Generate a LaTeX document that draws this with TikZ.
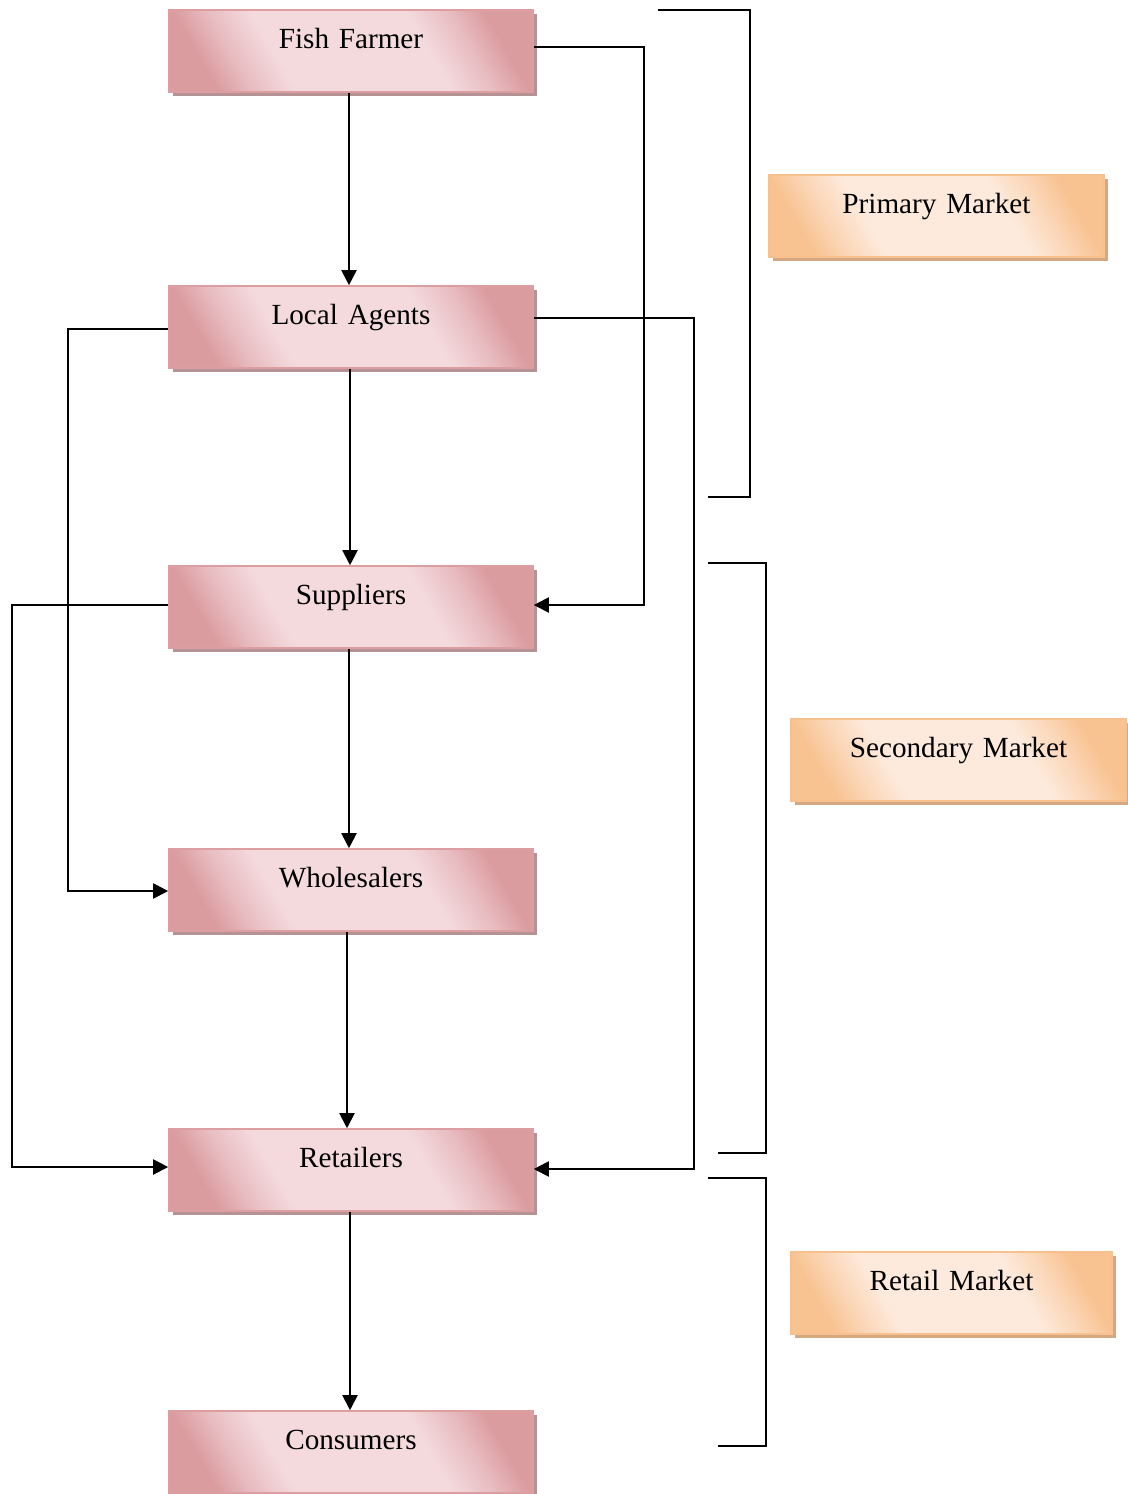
\documentclass[tikz,border=0pt]{standalone}
\usepackage{fontspec}
\setmainfont{Liberation Serif}
\usetikzlibrary{arrows.meta,shadows}
\definecolor{pdark}{HTML}{DB9CA0}
\definecolor{pmid}{HTML}{E8BDC1}
\definecolor{plight}{HTML}{F4DADD}
\definecolor{pborder}{HTML}{DC9EA1}
\definecolor{pshadow}{HTML}{B59394}
\definecolor{odark}{HTML}{F8C291}
\definecolor{omid}{HTML}{FBD6B6}
\definecolor{olight}{HTML}{FDEADC}
\definecolor{oborder}{HTML}{F7C08E}
\definecolor{oshadow}{HTML}{D4A982}
\pgfdeclareverticalshading{pinksh}{100bp}{color(0bp)=(pdark); color(24bp)=(pdark); color(30bp)=(pmid); color(37bp)=(plight); color(63bp)=(plight); color(70bp)=(pmid); color(76bp)=(pdark); color(100bp)=(pdark)}
\pgfdeclareverticalshading{orsh}{100bp}{color(0bp)=(odark); color(24bp)=(odark); color(30bp)=(omid); color(37bp)=(olight); color(63bp)=(olight); color(70bp)=(omid); color(76bp)=(odark); color(100bp)=(odark)}
\tikzset{
  box/.style={rectangle, inner xsep=0pt, inner ysep=0pt, text height=19pt, text depth=22pt,
    align=center, font=\fontsize{14.6}{17}\selectfont, line width=0.8pt},
  pbox/.style={box, text width=182pt, draw=pborder, shading=pinksh, shading angle=-60,
    drop shadow={shadow xshift=2pt, shadow yshift=-2pt, fill=pshadow, opacity=1}},
  obox/.style={box, draw=oborder, shading=orsh, shading angle=-60,
    drop shadow={shadow xshift=2pt, shadow yshift=-2pt, fill=oshadow, opacity=1}},
  arr/.style={line width=1pt, -{Triangle[length=7.5pt,width=7.5pt]}},
  ln/.style={line width=1pt},
}
\begin{document}
\begin{tikzpicture}[x=0.5pt,y=-0.5pt]
\useasboundingbox[fill=white] (0,0) rectangle (1128,1494);
% main chain
\node[pbox] (ff)  at (351,51)   {Fish Farmer};
\node[pbox] (la)  at (351,327)  {Local Agents};
\node[pbox] (sup) at (351,607)  {Suppliers};
\node[pbox] (wh)  at (351,890)  {Wholesalers};
\node[pbox] (ret) at (351,1170) {Retailers};
\node[pbox] (con) at (351,1452) {Consumers};
% market labels
\node[obox, text width=167.5pt] (pm) at (936.5,216)  {Primary Market};
\node[obox, text width=167.5pt] (sm) at (958.5,760)  {Secondary Market};
\node[obox, text width=160.5pt] (rm) at (951.5,1293) {Retail Market};
% vertical arrows
\draw[arr] ([xshift=-1pt]ff.south) -- ([xshift=-1pt]la.north);
\draw[arr] ([xshift=-0.5pt]la.south) -- ([xshift=-0.5pt]sup.north);
\draw[arr] ([xshift=-1pt]sup.south) -- ([xshift=-1pt]wh.north);
\draw[arr] ([xshift=-2pt]wh.south) -- ([xshift=-2pt]ret.north);
\draw[arr] ([xshift=-0.5pt]ret.south) -- ([xshift=-0.5pt]con.north);
% side routes
\draw[arr] ([yshift=2pt]ff.east) -- ++(110,0) |- ([yshift=1pt]sup.east);
\draw[arr] ([yshift=4.5pt]la.east) -- ++(160,0) |- ([yshift=0.5pt]ret.east);
\draw[arr] ([yshift=-1pt]la.west) -- ++(-100,0) |- ([yshift=-0.5pt]wh.west);
\draw[arr] ([yshift=1pt]sup.west) -- ++(-156,0) |- ([yshift=1.5pt]ret.west);
% brackets
\draw[ln] (658,10) -- (750,10) -- (750,497) -- (708,497);
\draw[ln] (708,563) -- (766,563) -- (766,1153) -- (718,1153);
\draw[ln] (708,1178) -- (766,1178) -- (766,1446) -- (718,1446);
\end{tikzpicture}
\end{document}
